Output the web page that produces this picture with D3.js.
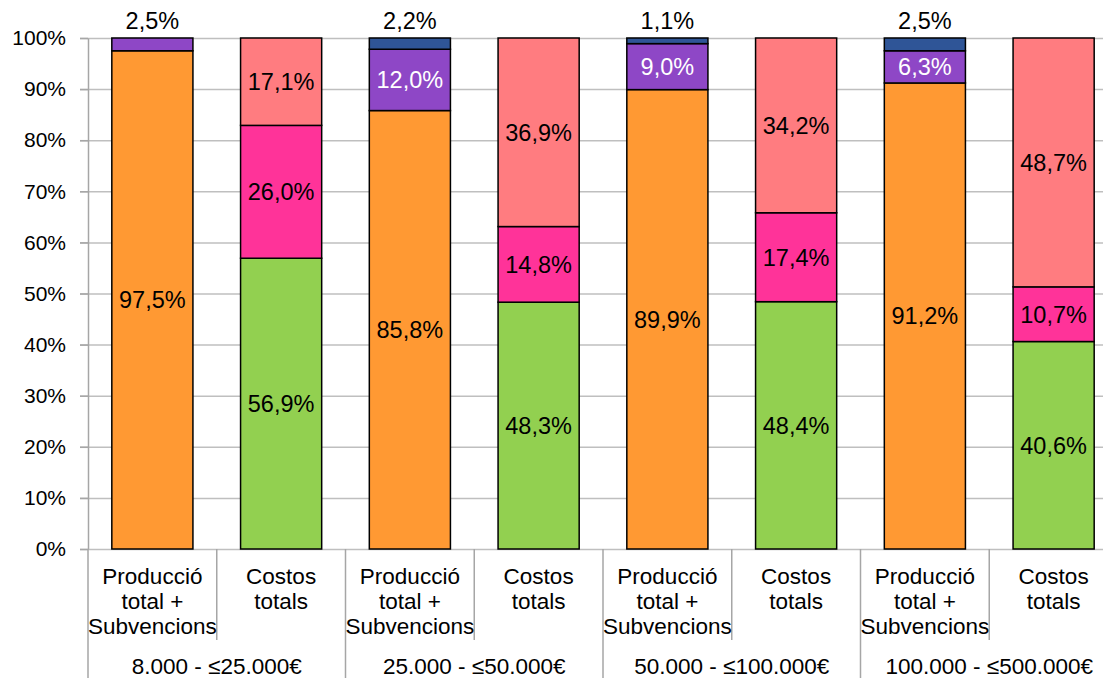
<!DOCTYPE html>
<html>
  <head>
    <meta charset="utf-8">
    <script src="https://d3js.org/d3.v7.min.js"></script>
    <style>
      body { margin: 0; background: #fff; }
      svg { font-family: "Liberation Sans", Arial, sans-serif; }
      .grid line { stroke: #bfbfbf; stroke-width: 1.5; }
      .grid path { display: none; }
      .yaxis line, .yaxis path { stroke: #a6a6a6; stroke-width: 1.5; }
      .yaxis text { font-size: 21px; fill: #000; }
    </style>
  </head>
<body>
<script type="text/javascript">

  // dades (%)
  var groups = ["8.000 - ≤25.000€", "25.000 - ≤50.000€", "50.000 - ≤100.000€", "100.000 - ≤500.000€"];
  var labelProd = ["Producció", "total +", "Subvencions"];
  var labelCost = ["Costos", "totals"];

  var prodOrange = [97.5, 85.8, 89.9, 91.2];
  var prodPurple = [2.5, 12.0, 9.0, 6.3];
  var prodBlue   = [0, 2.2, 1.1, 2.5];

  var costGreen  = [56.9, 48.3, 48.4, 40.6];
  var costPink   = [26.0, 14.8, 17.4, 10.7];
  var costSalmon = [17.1, 36.9, 34.2, 48.7];

  var yTicks = [0, 10, 20, 30, 40, 50, 60, 70, 80, 90, 100];

  var colorsProd = ["#ff9933", "#8e47c6", "#2f5597"];
  var colorsCost = ["#92d050", "#ff3399", "#ff7c80"];

  // files per barra
  var rows = [];
  groups.forEach(function (g, i) {
    rows.push({ id: i * 2, type: "prod", a: prodOrange[i], b: prodPurple[i], c: prodBlue[i] });
    rows.push({ id: i * 2 + 1, type: "cost", a: costGreen[i], b: costPink[i], c: costSalmon[i] });
  });

  var width = 1103, height = 678;
  var plotLeft = 88, plotTop = 38, plotBottom = 549;
  var step = 128.75;

  var svg = d3.select("body").append("svg")
    .attr("width", width)
    .attr("height", height);

  var x = d3.scaleBand()
    .domain(rows.map(function (d) { return d.id; }))
    .range([plotLeft, plotLeft + step * rows.length])
    .paddingInner(0.37)
    .paddingOuter(0.185);

  var y = d3.scaleLinear().domain([0, 100]).range([plotBottom, plotTop]);

  // línies de graella
  svg.append("g")
    .attr("class", "grid")
    .attr("transform", "translate(" + (plotLeft - 8) + ",0)")
    .call(d3.axisRight(y).tickValues(yTicks).tickSize(width).tickFormat(""));

  // eix y
  svg.append("g")
    .attr("class", "yaxis")
    .attr("transform", "translate(" + plotLeft + ",0)")
    .call(d3.axisLeft(y).tickValues(yTicks).tickSize(8).tickSizeOuter(0).tickPadding(14)
      .tickFormat(function (d) { return d + "%"; }));

  // separadors de categories
  var half = (x.step() - x.bandwidth()) / 2;
  rows.forEach(function (d, i) {
    var bx = x(d.id) - half;
    svg.append("line")
      .attr("x1", bx).attr("x2", bx)
      .attr("y1", plotBottom).attr("y2", i % 2 === 0 ? height : 640)
      .attr("stroke", "#a6a6a6").attr("stroke-width", 1.5);
  });

  var stack = d3.stack().keys(["a", "b", "c"]);
  var series = stack(rows);

  series.forEach(function (s, k) {
    var g = svg.append("g");
    g.selectAll("rect")
      .data(s.filter(function (d) { return d.data[s.key] > 0; }))
      .enter()
      .append("rect")
        .attr("x", function (d) { return x(d.data.id); })
        .attr("width", x.bandwidth())
        .attr("y", function (d) { return y(d[1]); })
        .attr("height", function (d) { return y(d[0]) - y(d[1]); })
        .attr("fill", function (d) { return d.data.type === "prod" ? colorsProd[k] : colorsCost[k]; })
        .attr("stroke", "#000")
        .attr("stroke-width", 1.5);
  });

  // etiquetes de dades
  series.forEach(function (s, k) {
    svg.append("g").selectAll("text")
      .data(s.filter(function (d) { return d.data[s.key] > 0; }))
      .enter()
      .append("text")
        .attr("x", function (d) { return x(d.data.id) + x.bandwidth() / 2; })
        .attr("y", function (d) {
          var v = d.data[s.key];
          if (v < 4) return y(100) - 9;
          return y((d[0] + d[1]) / 2);
        })
        .attr("dy", function (d) { return d.data[s.key] < 4 ? 0 : "0.36em"; })
        .attr("text-anchor", "middle")
        .style("font-size", "23.5px")
        .style("fill", function (d) {
          return (d.data.type === "prod" && k === 1 && d.data[s.key] >= 4) ? "#fff" : "#000";
        })
        .text(function (d) { return d3.format(".1f")(d.data[s.key]).replace(".", ",") + "%"; });
  });

  // etiquetes de categories
  rows.forEach(function (d) {
    var lines = d.type === "prod" ? labelProd : labelCost;
    var t = svg.append("text")
      .attr("text-anchor", "middle")
      .style("font-size", "22.5px");
    lines.forEach(function (l, j) {
      t.append("tspan")
        .attr("x", x(d.id) + x.bandwidth() / 2)
        .attr("y", 584 + j * 25)
        .text(l);
    });
  });

  groups.forEach(function (g, i) {
    svg.append("text")
      .attr("x", (x(i * 2) + x(i * 2 + 1) + x.bandwidth()) / 2)
      .attr("y", 674)
      .attr("text-anchor", "middle")
      .style("font-size", "22.5px")
      .text(g);
  });

</script>
</body>
</html>
